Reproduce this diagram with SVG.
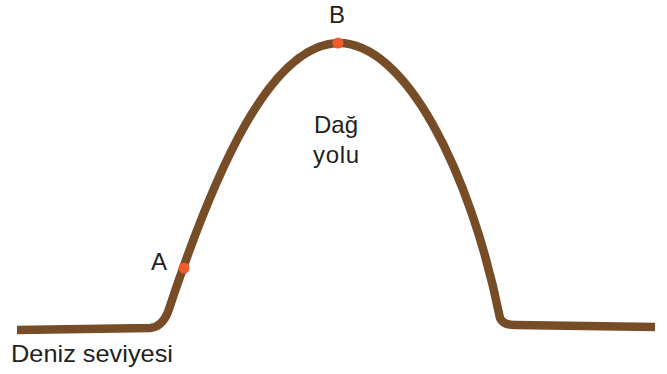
<svg xmlns="http://www.w3.org/2000/svg" width="667" height="374" viewBox="0 0 667 374">
<style>
.t{font-family:"Liberation Sans",Arial,sans-serif;font-size:24px;fill:#231f20}
.road{fill:none;stroke:#774d28;stroke-width:8.5;stroke-linecap:butt;stroke-linejoin:round}
.pt{fill:#f15a2b}
</style>
<rect width="667" height="374" fill="#fff"/>
<g id="connectors">
<path id="road" class="road" d="M17,330 L150,328 Q162,327 168,312 C215,170 270,45 338,43 C405,42 470,170 500,318 Q503,325 515,325 L655,327"/>
</g>
<g id="nodeA"><circle class="pt" cx="184" cy="268" r="5.5"/><text class="t" x="159" y="270" text-anchor="middle">A</text></g>
<g id="nodeB"><circle class="pt" cx="338" cy="43" r="5.5"/><text class="t" x="337" y="23" text-anchor="middle">B</text></g>
<g id="label-road"><text class="t" x="336" y="133" text-anchor="middle" textLength="44">Dağ</text><text class="t" x="336" y="163" text-anchor="middle" textLength="46">yolu</text></g>
<g id="label-sea"><text class="t" x="11" y="362" textLength="162" lengthAdjust="spacingAndGlyphs">Deniz seviyesi</text></g>
</svg>
